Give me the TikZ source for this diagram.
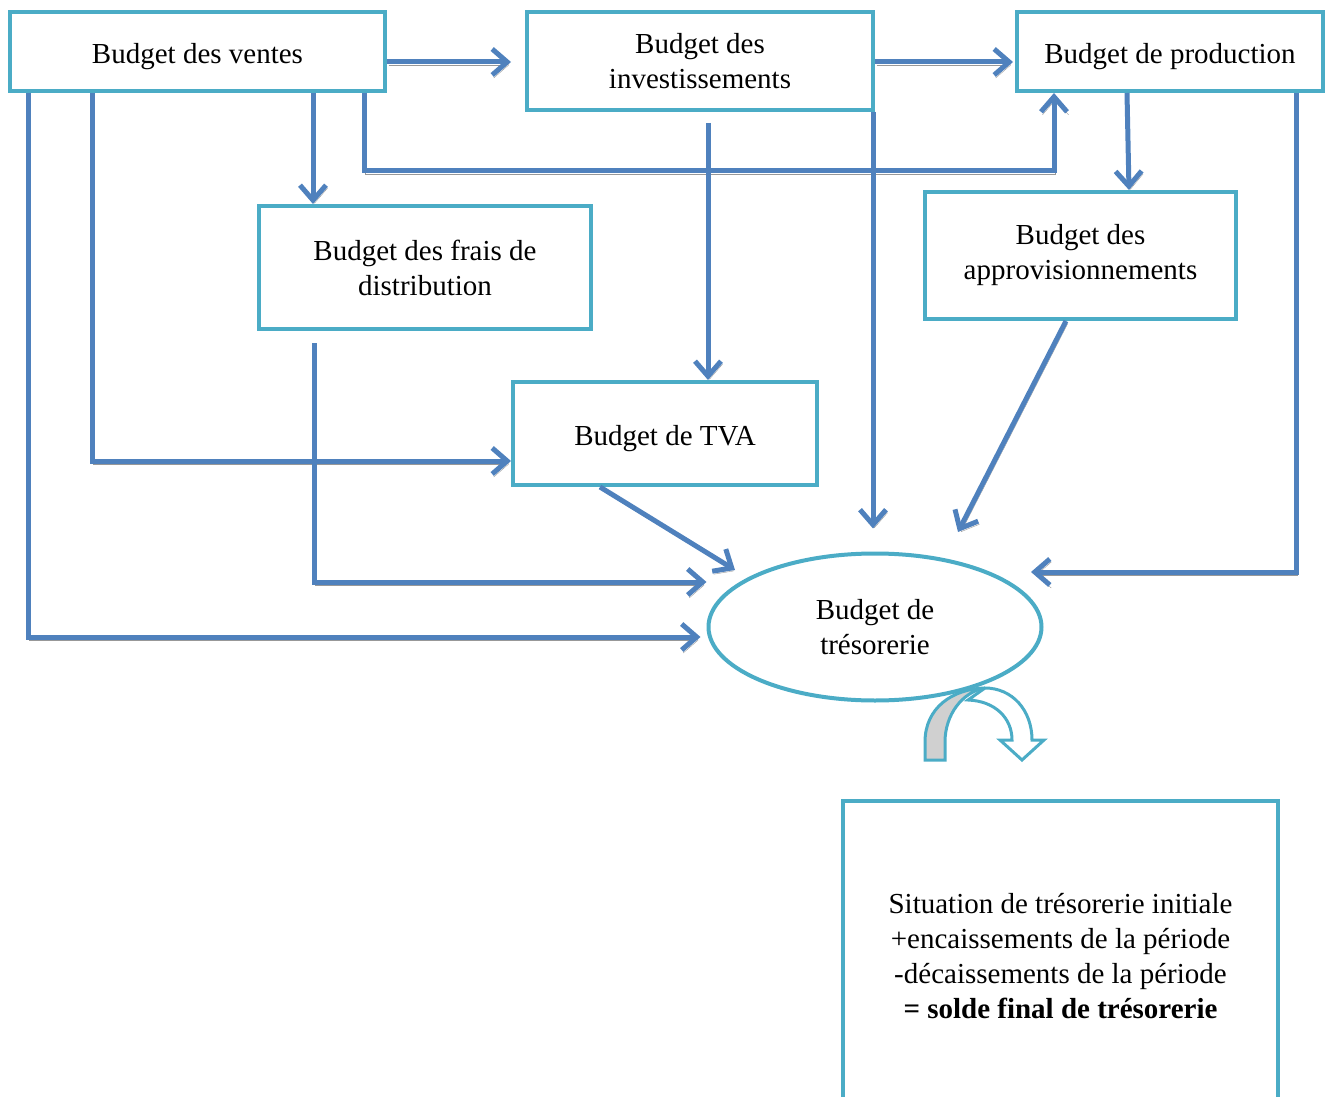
\documentclass[tikz,border=0pt]{standalone}
\usepackage{fontspec}
\setmainfont{Liberation Serif}
\usetikzlibrary{arrows.meta,shapes.geometric}
\definecolor{frame}{HTML}{4BACC6}
\definecolor{flow}{HTML}{4F81BD}
\definecolor{flowshadow}{HTML}{989898}
\definecolor{bendgray}{HTML}{D0D0D0}
\begin{document}
\begin{tikzpicture}[x=1pt,y=-1pt,
  every node/.style={font=\fontsize{29}{35}\selectfont},
  box/.style={draw=frame, line width=4pt, fill=white, align=center, inner sep=0pt},
  oneline/.style={text height=24pt, text depth=0pt},
  conn/.style={draw=flow, line width=5pt, line join=miter,
    -{Straight Barb[length=15pt,width=26pt]},
    preaction={draw=flowshadow, transform canvas={shift={(1.5pt,-3pt)}}}}]
\useasboundingbox (0,0) rectangle (1326,1097);

% budget blocks
\node[box, oneline, minimum width=375, minimum height=79] (ventes) at (197.5,51.5) {Budget des ventes};
\node[box, minimum width=346, minimum height=98] (invest) at (700,61) {Budget des\\investissements};
\node[box, oneline, minimum width=306, minimum height=79] (prod) at (1170,51.5) {Budget de production};
\node[box, minimum width=332, minimum height=123] (frais) at (425,267.5) {Budget des frais de\\distribution};
\node[box, minimum width=311, minimum height=127] (approv) at (1080.5,255.5) {Budget des\\approvisionnements};
\node[box, oneline, minimum width=304, minimum height=103] (tva) at (665,433.5) {Budget de TVA};
\node[box, ellipse, minimum width=333, minimum height=147] (treso) at (875,627) {Budget de\\trésorerie};

% closing balance frame (runs past the lower edge)
\node[align=center, inner sep=0pt] (solde) at (1060.5,956)
  {Situation de trésorerie initiale\\+encaissements de la période\\-décaissements de la période\\\textbf{= solde final de trésorerie}};
\draw[frame, line width=4pt] (843,1110) -- (843,801) -- (1278,801) -- (1278,1110);

% free arrow ends next to the ellipse
\coordinate (tvaend) at (735,570);
\coordinate (approvend) at (958,532);
\coordinate (prodend) at (1031,572);

% flows
\draw[conn, shorten >=14pt] (ventes.east |- 0,62) -- (invest.west |- 0,62);
\draw[conn, shorten >=2pt] (invest.east |- 0,62) -- (prod.west |- 0,62);
\draw[conn] (313,0 |- ventes.south) -- (313,0 |- frais.north);
\draw[conn] (364,0 |- ventes.south) -- (364,171) -- (1054,171) -- (1054,0 |- prod.south);
\draw[conn] (92,0 |- ventes.south) |- (tva.west |- 0,461);
\draw[conn, shorten >=6pt] (28,0 |- ventes.south) |- (treso.west |- 0,637);
\draw[conn, shorten <=11pt] (708,0 |- invest.south) -- (708,0 |- tva.north);
\draw[conn, shorten >=23pt] (873,0 |- invest.south) -- (873,0 |- treso.north);
\draw[conn] (1127,0 |- prod.south) -- (1129,0 |- approv.north);
\draw[conn] (1296,0 |- prod.south) |- (prodend);
\draw[conn, shorten <=12pt] (314,0 |- frais.south) |- (treso.west |- 0,582);
\draw[conn] (600,0 |- tva.south) -- (tvaend);
\draw[conn] (1066,0 |- approv.south) -- (approvend);

% U-turn arrow under the ellipse
\draw[frame, line width=3pt, fill=white, line join=miter]
  (985,688) .. controls (1012,688) and (1032,710) .. (1032,740)
  -- (1044,740) -- (1022,760) -- (1000,740) -- (1012,740)
  .. controls (1012,718) and (995,701) .. (968,700) -- cycle;
\draw[frame, line width=3pt, fill=bendgray, line join=miter]
  (925,760) -- (925,742) .. controls (925,708) and (952,689) .. (985,688)
  .. controls (962,692) and (945,715) .. (945,742) -- (945,760) -- cycle;
\end{tikzpicture}
\end{document}
